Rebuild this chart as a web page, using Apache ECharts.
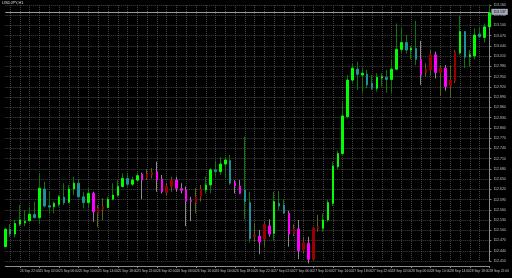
<!DOCTYPE html>
<html><head><meta charset="utf-8">
<script src="https://cdn.jsdelivr.net/npm/echarts@6/dist/echarts.min.js"></script>
<style>html,body{margin:0;padding:0;background:#000}#c{width:512px;height:278px}</style>
</head><body><div id="c"></div>
<script>
const chartTitle = 'USDJPY,H1';
const categories = [
'24 Sep 19:00','24 Sep 20:00','24 Sep 21:00','24 Sep 22:00','24 Sep 23:00',
'25 Sep 00:00','25 Sep 01:00','25 Sep 02:00','25 Sep 03:00','25 Sep 04:00','25 Sep 05:00','25 Sep 06:00','25 Sep 07:00',
'25 Sep 08:00','25 Sep 09:00','25 Sep 10:00','25 Sep 11:00','25 Sep 12:00','25 Sep 13:00','25 Sep 14:00','25 Sep 15:00',
'25 Sep 16:00','25 Sep 17:00','25 Sep 18:00','25 Sep 19:00','25 Sep 20:00','25 Sep 21:00','25 Sep 22:00','25 Sep 23:00',
'26 Sep 00:00','26 Sep 01:00','26 Sep 02:00','26 Sep 03:00','26 Sep 04:00','26 Sep 05:00','26 Sep 06:00','26 Sep 07:00',
'26 Sep 08:00','26 Sep 09:00','26 Sep 10:00','26 Sep 11:00','26 Sep 12:00','26 Sep 13:00','26 Sep 14:00','26 Sep 15:00',
'26 Sep 16:00','26 Sep 17:00','26 Sep 18:00','26 Sep 19:00','26 Sep 20:00','26 Sep 21:00','26 Sep 22:00','26 Sep 23:00',
'27 Sep 00:00','27 Sep 01:00','27 Sep 02:00','27 Sep 03:00','27 Sep 04:00','27 Sep 05:00','27 Sep 06:00','27 Sep 07:00',
'27 Sep 08:00','27 Sep 09:00','27 Sep 10:00','27 Sep 11:00','27 Sep 12:00','27 Sep 13:00','27 Sep 14:00','27 Sep 15:00',
'27 Sep 16:00','27 Sep 17:00','27 Sep 18:00','27 Sep 19:00','27 Sep 20:00','27 Sep 21:00','27 Sep 22:00','27 Sep 23:00',
'28 Sep 00:00','28 Sep 01:00','28 Sep 02:00','28 Sep 03:00','28 Sep 04:00','28 Sep 05:00','28 Sep 06:00','28 Sep 07:00',
'28 Sep 08:00','28 Sep 09:00','28 Sep 10:00','28 Sep 11:00','28 Sep 12:00','28 Sep 13:00','28 Sep 14:00','28 Sep 15:00',
'28 Sep 16:00','28 Sep 17:00','28 Sep 18:00','28 Sep 19:00','28 Sep 20:00','28 Sep 21:00','28 Sep 22:00'
];
const opens = [
112.452,112.503,112.489,112.518,112.522,112.528,112.546,112.537,112.621,112.572,
112.569,112.576,112.597,112.582,112.621,112.638,112.598,112.581,112.608,112.551,
112.562,112.567,112.591,112.603,112.628,112.652,112.635,112.647,112.664,112.654,
112.662,112.671,112.650,112.611,112.628,112.647,112.622,112.618,112.587,112.581,
112.598,112.618,112.633,112.677,112.672,112.694,112.704,112.639,112.630,112.618,
112.581,112.481,112.483,112.474,112.513,112.491,112.579,112.574,112.550,112.491,
112.504,112.442,112.462,112.415,112.505,112.506,112.530,112.579,112.686,112.725,
112.833,112.940,112.972,112.955,112.957,112.931,112.916,112.946,112.948,112.942,
112.972,113.030,113.050,113.028,113.033,113.001,112.962,112.970,113.014,112.962,
112.975,112.923,112.938,113.020,113.082,113.009,113.011,113.075,113.065,113.096
];
const closes = [
112.503,112.489,112.520,112.530,112.526,112.547,112.537,112.623,112.571,112.568,
112.579,112.598,112.581,112.621,112.638,112.598,112.581,112.608,112.554,112.564,
112.569,112.591,112.603,112.628,112.652,112.635,112.647,112.660,112.647,112.664,
112.670,112.647,112.613,112.628,112.647,112.623,112.617,112.586,112.584,112.598,
112.620,112.633,112.677,112.672,112.694,112.706,112.638,112.630,112.608,112.584,
112.476,112.486,112.466,112.518,112.489,112.584,112.571,112.551,112.489,112.504,
112.440,112.464,112.415,112.506,112.510,112.530,112.581,112.688,112.725,112.835,
112.940,112.975,112.957,112.960,112.926,112.916,112.948,112.950,112.942,112.972,
113.030,113.050,113.028,113.033,113.001,112.955,112.972,113.014,112.962,112.975,
112.921,112.940,113.023,113.082,113.007,113.014,113.072,113.067,113.096,113.137
];
const lows = [
112.451,112.481,112.479,112.512,112.512,112.525,112.535,112.518,112.567,112.550,
112.550,112.569,112.574,112.579,112.603,112.594,112.564,112.564,112.525,112.509,
112.530,112.564,112.589,112.598,112.626,112.628,112.630,112.642,112.591,112.647,
112.652,112.613,112.608,112.603,112.613,112.613,112.608,112.512,112.527,112.550,
112.584,112.608,112.608,112.657,112.662,112.652,112.633,112.608,112.606,112.532,
112.464,112.466,112.430,112.452,112.481,112.469,112.559,112.548,112.452,112.483,
112.415,112.432,112.403,112.411,112.496,112.496,112.525,112.571,112.679,112.721,
112.828,112.932,112.911,112.903,112.916,112.911,112.906,112.921,112.903,112.903,
112.970,113.018,113.018,113.001,112.984,112.926,112.950,112.955,112.945,112.893,
112.909,112.890,112.931,113.014,112.975,112.979,113.001,113.063,113.050,113.095
];
const highs = [
112.507,112.518,112.530,112.574,112.559,112.569,112.584,112.667,112.642,112.613,
112.584,112.603,112.638,112.633,112.657,112.649,112.613,112.623,112.613,112.574,
112.594,112.598,112.638,112.647,112.667,112.667,112.657,112.669,112.669,112.679,
112.682,112.701,112.662,112.638,112.657,112.657,112.638,112.628,112.598,112.623,
112.633,112.657,112.682,112.704,112.714,112.714,112.721,112.647,112.647,112.774,
112.613,112.522,112.501,112.525,112.532,112.613,112.615,112.591,112.557,112.517,
112.530,112.481,112.481,112.510,112.545,112.550,112.589,112.701,112.733,112.877,
112.955,112.987,112.994,112.975,112.970,112.955,112.960,112.960,112.970,112.999,
113.106,113.092,113.072,113.040,113.114,113.055,112.989,113.028,113.023,112.984,
112.984,112.984,113.028,113.128,113.084,113.028,113.092,113.096,113.106,113.160
];
// trend state of the colouring indicator: U = up, D = down
const trend = [
'U','U','U','U','U','U','U','U','U','U','U','U','U','U','U','U','U','U','D','D',
'D','U','U','U','U','U','U','U','D','D','D','D','D','D','D','D','D','D','D','D',
'D','U','U','U','U','U','U','D','D','U','U','D','D','D','D','U','U','U','D','D',
'D','D','D','D','D','U','U','U','U','U','U','U','U','U','U','U','U','U','U','U',
'U','U','U','U','U','D','D','D','D','D','D','D','D','U','U','U','U','U','U','U'
];
const priceMin = 112.410, priceMax = 113.160, priceStep = 0.030;

const BODY = {upBull:'#00ff00', upBear:'#1f8e9d', dnBear:'#ff00ff', dnBull:'#9a0000'};
const WICK = {upBull:'#0a780a', upBear:'#0a780a', dnBear:'#8a8a8a', dnBull:'#566814'};
function kind(i){
  const bull = closes[i] >= opens[i];
  return trend[i] === 'U' ? (bull ? 'upBull' : 'upBear') : (bull ? 'dnBull' : 'dnBear');
}
const wickData = [], bodyData = [];
for (let i = 0; i < categories.length; i++) {
  const k = kind(i);
  wickData.push({value:[opens[i], closes[i], lows[i], highs[i]],
    itemStyle:{color:WICK[k], color0:WICK[k], borderColor:WICK[k], borderColor0:WICK[k]}});
  bodyData.push({value:[opens[i], closes[i], Math.min(opens[i],closes[i]), Math.max(opens[i],closes[i])],
    itemStyle:{color:BODY[k], color0:BODY[k], borderColor:BODY[k], borderColor0:BODY[k]}});
}
const lastClose = closes[closes.length-1];
const gridColor = '#444444', axisColor = '#8c8c8c', textColor = '#c0c0c0';
const chart = echarts.init(document.getElementById('c'), null, {renderer:'canvas'});
chart.setOption({
  animation:false,
  backgroundColor:'#000000',
  title:{text:chartTitle, left:2, top:1, padding:0,
    textStyle:{fontSize:4, color:'#dddddd', fontWeight:'normal', fontFamily:'Liberation Sans'}},
  grid:{left:5.3, right:22.5, top:5, bottom:17, containLabel:false},
  xAxis:{type:'category', data:categories, boundaryGap:false, offset:5,
    axisLine:{show:true, lineStyle:{color:axisColor, width:1}},
    axisTick:{show:true, length:2, interval:(i)=>i%4===3, lineStyle:{color:axisColor}},
    axisLabel:{show:true, interval:(i)=>i%4===3, align:'left', margin:4, fontSize:3.3, hideOverlap:false,
      showMinLabel:true, color:textColor, fontFamily:'Liberation Sans'},
    splitLine:{show:true, interval:(i)=>i%2===1, lineStyle:{color:gridColor, width:1, type:[1,1]}}},
  yAxis:{type:'value', position:'right', scale:true, min:priceMin, max:priceMax, interval:priceStep,
    axisLine:{show:true, lineStyle:{color:axisColor, width:1}},
    axisTick:{show:true, length:2, lineStyle:{color:axisColor}},
    axisLabel:{show:true, margin:4, fontSize:3.5, color:textColor, fontFamily:'Liberation Sans',
      formatter:(v)=>v.toFixed(3)},
    splitLine:{show:true, lineStyle:{color:gridColor, width:1, type:[1,1]}}},
  series:[
    {type:'candlestick', name:'wicks', data:wickData, barWidth:1, clip:false, silent:true,
      itemStyle:{borderWidth:1}},
    {type:'candlestick', name:'bodies', data:bodyData, barWidth:2, clip:false, silent:true,
      itemStyle:{borderWidth:1},
      markLine:{silent:true, symbol:['none','none'], animation:false,
        lineStyle:{color:'#9a9a9a', width:1, type:'solid'},
        label:{show:true, position:'end', formatter:()=>lastClose.toFixed(3), fontSize:3.5,
          color:'#000', backgroundColor:'#a4acbc', padding:[1,2], distance:2,
          fontFamily:'Liberation Sans'},
        data:[{yAxis:lastClose}]}}
  ]
});
</script></body></html>
